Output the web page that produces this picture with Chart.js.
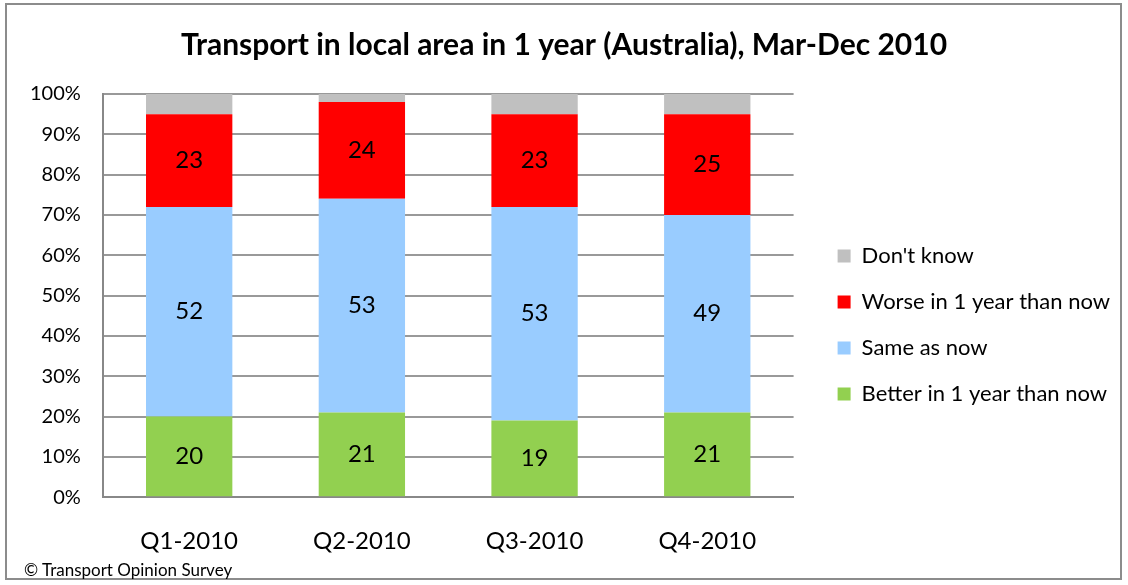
<!DOCTYPE html>
<html lang="en">
<head>
    <meta charset="UTF-8">
    <title>Transport in local area in 1 year</title>
    <script src="https://cdn.jsdelivr.net/npm/chart.js"></script>
    <style>
        body { margin: 0; background: #fff; }
        .frame { position: absolute; left: 5px; top: 3px; width: 1117px; height: 577px; border: 2px solid #8c8c8c; box-sizing: border-box; }
        canvas { position: absolute; left: 0; top: 0; }
        .source { position: absolute; left: 24px; top: 559px; font: 17px Lato, 'Open Sans', sans-serif; color: #000; }
    </style>
</head>
<body>
    <div class="frame"></div>
    <canvas id="chart" width="1128" height="585"></canvas>
    <div class="source">&copy; Transport Opinion Survey</div>

    <script>
        const quarters = ['Q1-2010', 'Q2-2010', 'Q3-2010', 'Q4-2010'];
        const better = [20, 21, 19, 21];
        const same = [52, 53, 53, 49];
        const worse = [23, 24, 23, 25];
        const dontKnow = [5, 2, 5, 5];

        const font = "Lato, 'Open Sans', sans-serif";

        // draw the numbers inside the coloured segments
        const barLabels = {
            id: 'barLabels',
            afterDatasetsDraw(chart) {
                const ctx = chart.ctx;
                ctx.save();
                ctx.font = '24px ' + font;
                ctx.fillStyle = '#000';
                ctx.textAlign = 'center';
                ctx.textBaseline = 'middle';
                chart.data.datasets.forEach((ds, i) => {
                    if (ds.label === "Don't know") return;
                    chart.getDatasetMeta(i).data.forEach((bar, j) => {
                        const mid = (bar.y + bar.base) / 2;
                        ctx.fillText(ds.data[j], bar.x, mid);
                    });
                });
                ctx.restore();
            }
        };

        new Chart(document.getElementById('chart'), {
            type: 'bar',
            data: {
                labels: quarters,
                datasets: [
                    { label: 'Better in 1 year than now', data: better, backgroundColor: '#92D050' },
                    { label: 'Same as now', data: same, backgroundColor: '#99CCFF' },
                    { label: 'Worse in 1 year than now', data: worse, backgroundColor: '#FF0000' },
                    { label: "Don't know", data: dontKnow, backgroundColor: '#C0C0C0' }
                ]
            },
            options: {
                responsive: false,
                animation: false,
                layout: { padding: { left: 8, right: 8, top: 14, bottom: 7 } },
                datasets: { bar: { barPercentage: 0.5, categoryPercentage: 1 } },
                scales: {
                    x: {
                        stacked: true,
                        grid: { display: false },
                        border: { color: '#888', width: 2 },
                        ticks: { color: '#000', font: { family: font, size: 24 }, padding: 22 }
                    },
                    y: {
                        stacked: true,
                        min: 0,
                        max: 100,
                        border: { color: '#888', width: 2 },
                        grid: { color: '#999', lineWidth: 2, drawTicks: false },
                        ticks: {
                            stepSize: 10,
                            color: '#000',
                            padding: 22,
                            font: { family: font, size: 20 },
                            callback: v => v + '%'
                        }
                    },
                    // empty strip between the plot and the legend
                    gap: {
                        position: 'right',
                        display: true,
                        grid: { display: false },
                        border: { display: false },
                        ticks: { display: false },
                        afterFit: s => { s.width = 20; }
                    }
                },
                plugins: {
                    title: {
                        display: true,
                        text: 'Transport in local area in 1 year (Australia), Mar-Dec 2010',
                        color: '#000',
                        font: { family: font, size: 30, weight: 'bold' },
                        padding: { top: 13, bottom: 31 }
                    },
                    legend: {
                        position: 'right',
                        reverse: true,
                        maxWidth: 400,
                        // blank title just pushes the items down a bit
                        title: { display: true, text: ' ', font: { size: 10 }, padding: { top: 46, bottom: 0 } },
                        labels: {
                            color: '#000',
                            font: { family: font, size: 22 },
                            boxWidth: 13,
                            boxHeight: 13,
                            padding: 24
                        }
                    },
                    tooltip: { enabled: false }
                }
            },
            plugins: [barLabels]
        });
    </script>
</body>
</html>
